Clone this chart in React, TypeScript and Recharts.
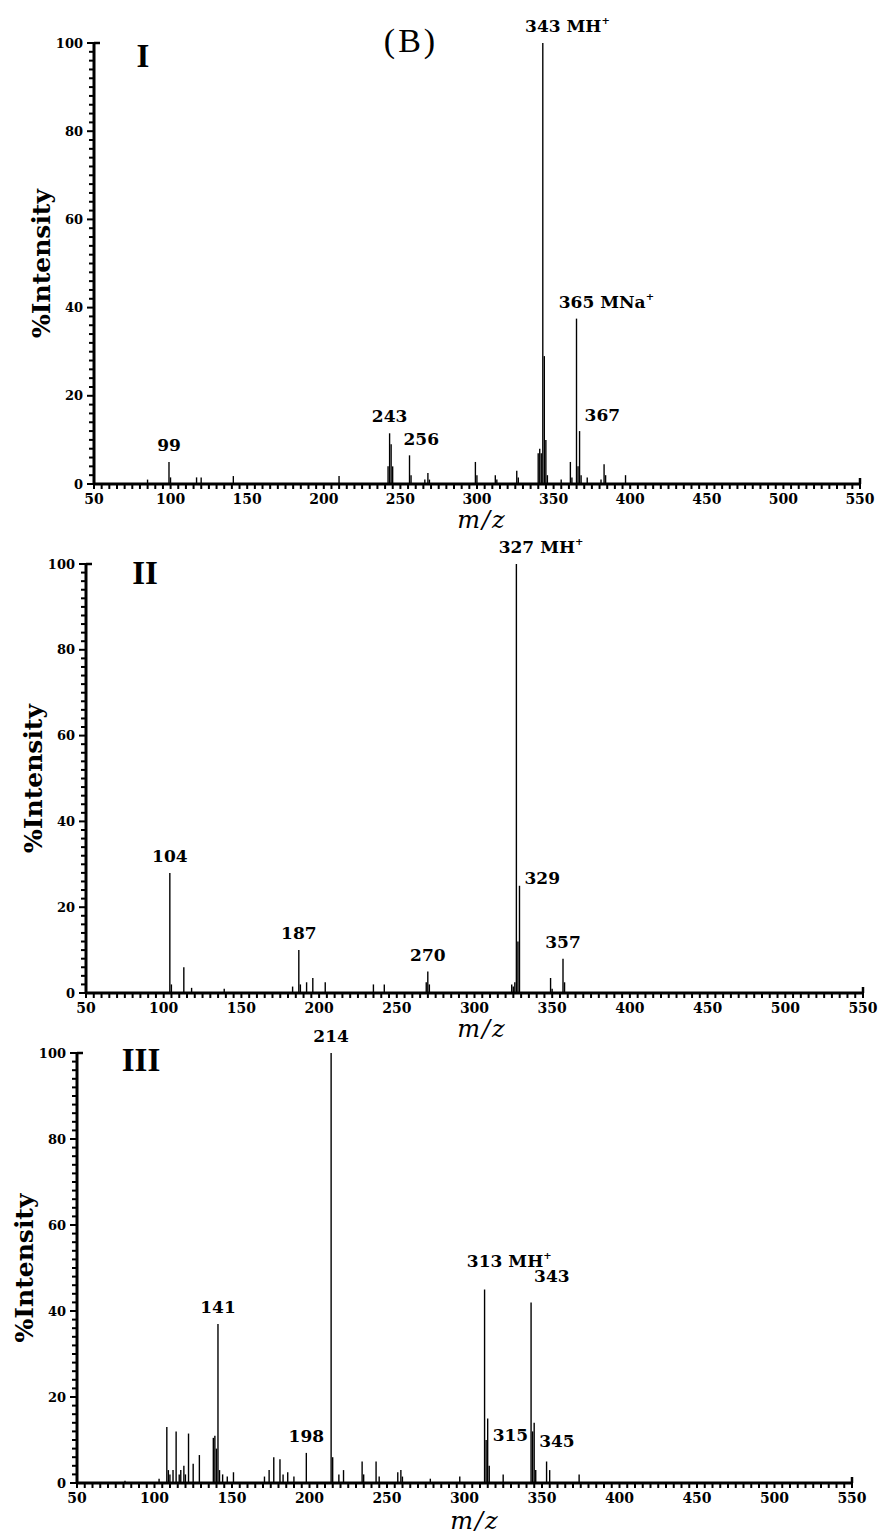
import React from 'react';
import { BarChart, Bar, XAxis, YAxis, LabelList } from 'recharts';

type Peak = [number, number]; // [m/z, % intensity]

// ---- tick values -------------------------------------------------------
const MZ_MAJOR = [50, 100, 150, 200, 250, 300, 350, 400, 450, 500, 550];
const INTENSITY_MAJOR = [0, 20, 40, 60, 80, 100];

const steps = (start: number, end: number, step: number) => {
  const out: number[] = [];
  for (let v = start; v <= end + 1e-9; v += step) out.push(Math.round(v * 100) / 100);
  return out;
};
const MZ_TICKS = steps(50, 550, 5);
const INTENSITY_TICKS = steps(0, 100, 2);

// ---- spectrum I ---------------------------------------------------------
const peaksI: Peak[] = [
  [85, 1], [99, 5], [100, 1.5], [117, 1.5], [120, 1.5], [141, 1.8], [210, 1.8],
  [242, 4], [243, 11.5], [244, 9], [245, 4], [256, 6.5], [257, 2], [266, 1],
  [268, 2.5], [269, 1], [299, 5], [300, 2], [312, 2], [313, 1], [326, 3], [327, 1.5],
  [340, 7], [341, 8], [342, 7], [343, 100], [344, 29], [345, 10], [346, 2], [355, 1],
  [361, 5], [362, 1.5], [365, 37.5], [366, 4], [367, 12], [368, 2], [372, 1.5],
  [381, 1], [383, 4.5], [384, 2], [397, 2],
];
const labelledI = [99, 243, 256, 343, 365, 367];
const ionsI: Record<number, string> = { 343: 'MH', 365: 'MNa' };

// ---- spectrum II --------------------------------------------------------
const peaksII: Peak[] = [
  [104, 28], [105, 2], [113, 6], [118, 1.2], [139, 1], [183, 1.5], [187, 10],
  [188, 2], [192, 2.5], [196, 3.5], [204, 2.5], [235, 2], [242, 2], [269, 2.5],
  [270, 5], [271, 2], [324, 2], [325, 1.5], [326, 2.5], [327, 100], [328, 12],
  [329, 25], [349, 3.5], [350, 1], [357, 8], [358, 2.5],
];
const labelledII = [104, 187, 270, 327, 329, 357];
const ionsII: Record<number, string> = { 327: 'MH' };

// ---- spectrum III -------------------------------------------------------
const peaksIII: Peak[] = [
  [81, 0.5], [103, 1], [108, 13], [109, 3], [110, 2], [112, 3], [114, 12], [116, 2],
  [117, 3], [119, 4], [120, 2], [122, 11.5], [125, 4.5], [129, 6.5], [138, 10.5],
  [139, 11], [140, 8], [141, 37], [142, 3], [144, 2], [147, 1.5], [151, 2.5],
  [171, 1.5], [174, 3], [177, 6], [181, 5.5], [183, 2], [186, 2.5], [190, 1.5],
  [198, 7], [214, 100], [215, 6], [219, 2], [222, 3], [234, 5], [235, 2], [243, 5],
  [245, 1.5], [257, 2.5], [259, 3], [260, 1.5], [278, 1], [297, 1.5], [313, 45],
  [314, 10], [315, 15], [316, 4], [325, 2], [343, 42], [344, 12], [345, 14],
  [346, 3], [353, 5], [355, 3], [374, 2],
];
const labelledIII = [141, 198, 214, 313, 315, 343, 345];
const ionsIII: Record<number, string> = { 313: 'MH' };

// ---- drawing ------------------------------------------------------------
const INK = '#000';
const SERIF = '"DejaVu Serif", serif';
const TIMES = '"Liberation Serif", serif';
const LABEL_SIZE = 17;

// 'above': number centred over the bar; 'right': text starts beside the bar
type Placement = { side: 'above' | 'right'; dx?: number; dy: number };

interface PanelSpec {
  numeral: string;
  peaks: Peak[];
  labelled: number[];
  ions: Record<number, string>;
  placement: Record<number, Placement>;
  top: number;
  height: number;
  marginTop: number;
  marginRight: number;
  yAxisWidth: number;
  xAxisHeight: number;
  numeralPos: [number, number];
  mzCenter: number;
  mzDrop: number;
}

const PANELS: PanelSpec[] = [
  {
    numeral: 'I', peaks: peaksI, labelled: labelledI, ions: ionsI,
    placement: { 256: { side: 'right', dx: -6, dy: -10 }, 367: { side: 'right', dy: -10 } },
    top: 0, height: 540, marginTop: 43, marginRight: 18, yAxisWidth: 94, xAxisHeight: 56,
    numeralPos: [143, 67], mzCenter: 482, mzDrop: 44,
  },
  {
    numeral: 'II', peaks: peaksII, labelled: labelledII, ions: ionsII,
    placement: { 329: { side: 'right', dy: -2 } },
    top: 505, height: 545, marginTop: 59, marginRight: 15, yAxisWidth: 86, xAxisHeight: 57,
    numeralPos: [145, 584], mzCenter: 482, mzDrop: 44,
  },
  {
    numeral: 'III', peaks: peaksIII, labelled: labelledIII, ions: ionsIII,
    placement: {
      313: { side: 'above', dy: -23 },
      315: { side: 'right', dy: 22 },
      343: { side: 'right', dx: 3, dy: -20 },
      345: { side: 'right', dy: 24 },
    },
    top: 995, height: 541, marginTop: 58, marginRight: 26, yAxisWidth: 77, xAxisHeight: 53,
    numeralPos: [141, 1071], mzCenter: 475, mzDrop: 46,
  },
];

const MzTick = (props: any) => {
  const { x, y, payload } = props;
  const v = payload.value as number;
  const major = MZ_MAJOR.includes(v);
  return (
    <g>
      <line x1={x} y1={y} x2={x} y2={y + 5} stroke={INK} strokeWidth={2} />
      {v === 550 && <line x1={x} y1={y} x2={x} y2={y - 6} stroke={INK} strokeWidth={2.5} />}
      {major && (
        <text x={x} y={y + 20} textAnchor="middle" fontFamily={SERIF} fontWeight="bold" fontSize={14} fill={INK}>
          {v}
        </text>
      )}
    </g>
  );
};

const IntensityTick = (props: any) => {
  const { x, y, payload } = props;
  const v = payload.value as number;
  const major = INTENSITY_MAJOR.includes(v);
  return (
    <g>
      <line x1={x} y1={y} x2={x - (major ? 7 : 5)} y2={y} stroke={INK} strokeWidth={2} />
      {v === 100 && <line x1={x} y1={y} x2={x + 6} y2={y} stroke={INK} strokeWidth={2.5} />}
      {major && (
        <text x={x - 11} y={y} dy="0.35em" textAnchor="end" fontFamily={SERIF} fontWeight="bold" fontSize={13} fill={INK}>
          {v}
        </text>
      )}
    </g>
  );
};

const makePeakLabel = (spec: PanelSpec, rows: { mz: number; intensity: number }[]) => (props: any) => {
  const { x, y, width, index } = props;
  const row = rows[index];
  if (!row || !spec.labelled.includes(row.mz)) return null;
  const cx = Number(x) + Number(width) / 2;
  const top = Number(y);
  const num = String(row.mz);
  const ion = spec.ions[row.mz];
  const place: Placement = spec.placement[row.mz] ?? { side: 'above', dy: -11 };
  const baseY = top + place.dy;
  const numW = num.length * 0.696 * LABEL_SIZE;
  const startX = place.side === 'right' ? cx + (place.dx ?? 5) : cx - numW / 2 + (place.dx ?? 0);
  return (
    <text x={startX} y={baseY} textAnchor="start" fontFamily={SERIF} fontWeight="bold" fontSize={LABEL_SIZE} fill={INK}>
      {num}
      {ion && (
        <>
          <tspan dx={6}>{ion}</tspan>
          <tspan fontSize={10} dy={-8}>+</tspan>
        </>
      )}
    </text>
  );
};

const SpectrumPanel = ({ spec }: { spec: PanelSpec }) => {
  const rows = spec.peaks.map(([mz, intensity]) => ({ mz, intensity }));
  const axisX = spec.yAxisWidth;
  return (
    <div style={{ position: 'absolute', left: 0, top: spec.top, width: 878, height: spec.height }}>
      <BarChart
        width={878}
        height={spec.height}
        data={rows}
        margin={{ top: spec.marginTop, right: spec.marginRight, bottom: 0, left: 0 }}
        barGap={0}
        barCategoryGap={0}
      >
        <XAxis
          dataKey="mz"
          type="number"
          domain={[50, 550]}
          allowDataOverflow
          ticks={MZ_TICKS}
          interval={0}
          tickSize={0}
          tickMargin={0}
          tickLine={false}
          tick={<MzTick />}
          height={spec.xAxisHeight}
          axisLine={{ stroke: INK, strokeWidth: 3 }}
          label={(p: any) => {
            const vb = p.viewBox || {};
            return (
              <text
                x={spec.mzCenter}
                y={Number(vb.y) + spec.mzDrop}
                textAnchor="middle"
                fontFamily={SERIF}
                fontStyle="italic"
                fontSize={24}
                letterSpacing={2}
                fill={INK}
              >
                m/z
              </text>
            );
          }}
        />
        <YAxis
          type="number"
          domain={[0, 100]}
          allowDataOverflow
          ticks={INTENSITY_TICKS}
          interval={0}
          tickSize={0}
          tickMargin={0}
          tickLine={false}
          tick={<IntensityTick />}
          width={spec.yAxisWidth}
          axisLine={{ stroke: INK, strokeWidth: 3 }}
          label={(p: any) => {
            const vb = p.viewBox || {};
            const cx = axisX - 53;
            const cy = Number(vb.y) + Number(vb.height) / 2;
            return (
              <text
                x={cx}
                y={cy}
                transform={`rotate(-90 ${cx} ${cy})`}
                textAnchor="middle"
                dominantBaseline="central"
                fontFamily={SERIF}
                fontWeight="bold"
                fontSize={25}
                fill={INK}
              >
                %Intensity
              </text>
            );
          }}
        />
        <Bar dataKey="intensity" fill={INK} barSize={3} isAnimationActive={false}>
          <LabelList dataKey="mz" content={makePeakLabel(spec, rows)} />
        </Bar>
      </BarChart>
    </div>
  );
};

export default function App() {
  return (
    <div
      style={{
        position: 'absolute',
        left: 0,
        top: 0,
        width: 878,
        height: 1536,
        background: '#fff',
        overflow: 'hidden',
      }}
    >
      {PANELS.map((spec) => (
        <SpectrumPanel key={spec.numeral} spec={spec} />
      ))}
      <svg
        width={878}
        height={1536}
        style={{ position: 'absolute', left: 0, top: 0, pointerEvents: 'none' }}
      >
        <text x={411} y={52} textAnchor="middle" fontFamily={TIMES} fontSize={34} letterSpacing={3} fill={INK}>
          (B)
        </text>
        {PANELS.map((spec) => (
          <text
            key={spec.numeral}
            x={spec.numeralPos[0]}
            y={spec.numeralPos[1]}
            textAnchor="middle"
            fontFamily={TIMES}
            fontWeight="bold"
            fontSize={33}
            fill={INK}
          >
            {spec.numeral}
          </text>
        ))}
      </svg>
    </div>
  );
}
